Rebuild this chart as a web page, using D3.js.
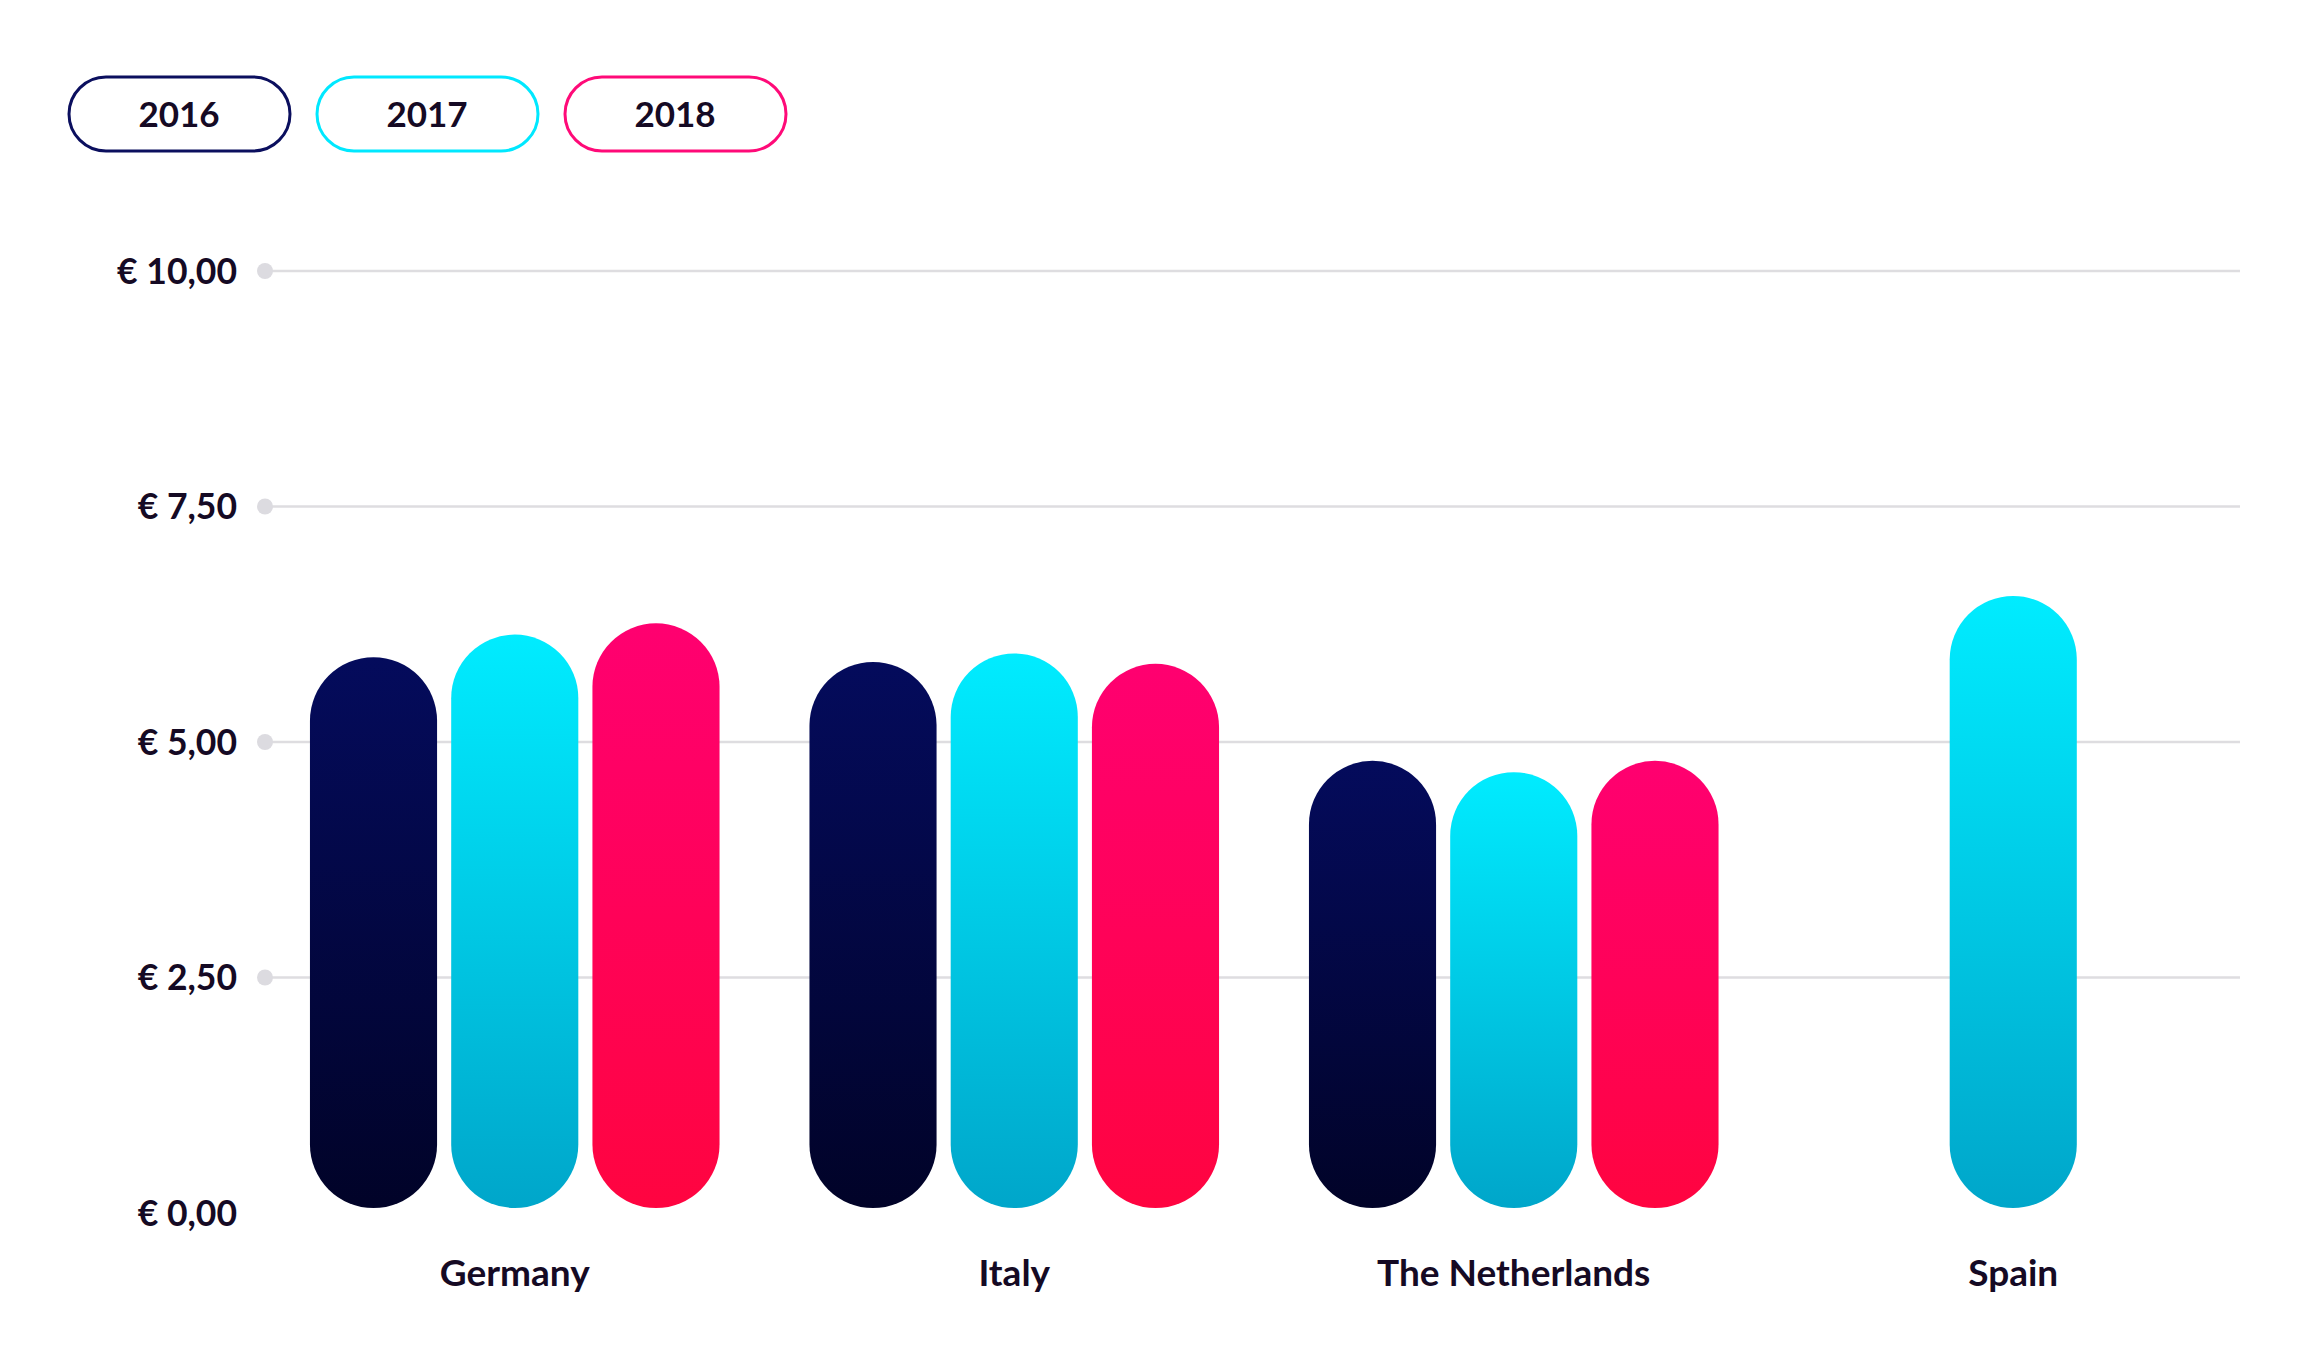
<!DOCTYPE html>
<html>
<head>
    <title>Price per country</title>
    <script src="https://d3js.org/d3.v7.min.js"></script>
    <style>
        body { margin: 0; background: #fff; }
        text { font-family: Lato, "Open Sans", sans-serif; fill: #150a24; }
    </style>
</head>
<body>
    <div id="chart"></div>
    <script>
        // data
        const countries = ["Germany", "Italy", "The Netherlands", "Spain"];
        const years = ["2016", "2017", "2018"];
        const values2016 = [5.90, 5.85, 4.80, null];
        const values2017 = [6.14, 5.94, 4.68, 6.55];
        const values2018 = [6.26, 5.83, 4.80, null];
        const yTicks = [0, 2.5, 5, 7.5, 10];

        const seriesValues = [values2016, values2017, values2018];
        const strokeColors = ["#0b0f5e", "#00e8ff", "#ff0a78"];
        const gradStops = [["#040b5c", "#010328"], ["#00ecff", "#00a6ca"], ["#ff0070", "#ff0440"]];

        const width = 2310, height = 1363;

        const svg = d3.select("#chart").append("svg")
            .attr("width", width)
            .attr("height", height);

        const defs = svg.append("defs");
        years.forEach((yr, i) => {
            const g = defs.append("linearGradient")
                .attr("id", "grad" + yr)
                .attr("x1", 0).attr("y1", 0).attr("x2", 0).attr("y2", 1);
            g.append("stop").attr("offset", "0%").attr("stop-color", gradStops[i][0]);
            g.append("stop").attr("offset", "100%").attr("stop-color", gradStops[i][1]);
        });

        const x0 = d3.scaleBand().domain(countries).range([265, 2263]).paddingInner(0.18).paddingOuter(0.09);
        const x1 = d3.scaleBand().domain(years).range([0, x0.bandwidth()]).padding(0.1).paddingOuter(0);
        const y = d3.scaleLinear().domain([0, 10]).range([1213, 271]);

        // gridlines with dot at the start (none at zero)
        const grid = svg.append("g");
        grid.selectAll("line")
            .data(yTicks.filter(d => d > 0))
            .enter().append("line")
            .attr("x1", 265).attr("x2", 2240)
            .attr("y1", d => y(d)).attr("y2", d => y(d))
            .attr("stroke", "#dedde0")
            .attr("stroke-width", 2.5);
        grid.selectAll("circle")
            .data(yTicks.filter(d => d > 0))
            .enter().append("circle")
            .attr("cx", 265).attr("cy", d => y(d))
            .attr("r", 8)
            .attr("fill", "#dcdbe0");

        const fmt = d => "€ " + d.toFixed(2).replace(".", ",");
        svg.append("g").selectAll("text")
            .data(yTicks)
            .enter().append("text")
            .attr("x", 237)
            .attr("y", d => y(d))
            .attr("dy", "0.36em")
            .attr("text-anchor", "end")
            .style("font-size", "35.5px")
            .style("font-weight", 700)
            .text(fmt);

        // bars
        const groups = svg.append("g").selectAll("g")
            .data(countries)
            .enter().append("g")
            .attr("transform", d => `translate(${x0(d)},0)`);

        groups.selectAll("rect")
            .data((c, ci) => years.map((yr, i) => ({year: yr, value: seriesValues[i][ci]})).filter(d => d.value != null))
            .enter().append("rect")
            .attr("x", d => x1(d.year))
            .attr("width", x1.bandwidth())
            .attr("y", d => y(d.value))
            .attr("height", d => y(0) - 5 - y(d.value))
            .attr("rx", x1.bandwidth() / 2)
            .attr("ry", x1.bandwidth() / 2)
            .attr("fill", d => `url(#grad${d.year})`);

        // category labels
        svg.append("g").selectAll("text")
            .data(countries)
            .enter().append("text")
            .attr("x", d => x0(d) + x0.bandwidth() / 2)
            .attr("y", 1286)
            .attr("text-anchor", "middle")
            .style("font-size", "37px")
            .style("font-weight", 700)
            .text(d => d);

        // legend pills
        const legend = svg.append("g").selectAll("g")
            .data(years)
            .enter().append("g")
            .attr("transform", (d, i) => `translate(${69 + i * 248},77)`);
        legend.append("rect")
            .attr("width", 221).attr("height", 74)
            .attr("rx", 37).attr("ry", 37)
            .attr("fill", "#fff")
            .attr("stroke", (d, i) => strokeColors[i])
            .attr("stroke-width", 3);
        legend.append("text")
            .attr("x", 110).attr("y", 37)
            .attr("dy", "0.36em")
            .attr("text-anchor", "middle")
            .style("font-size", "35px")
            .style("font-weight", 700)
            .text(d => d);
    </script>
</body>
</html>
